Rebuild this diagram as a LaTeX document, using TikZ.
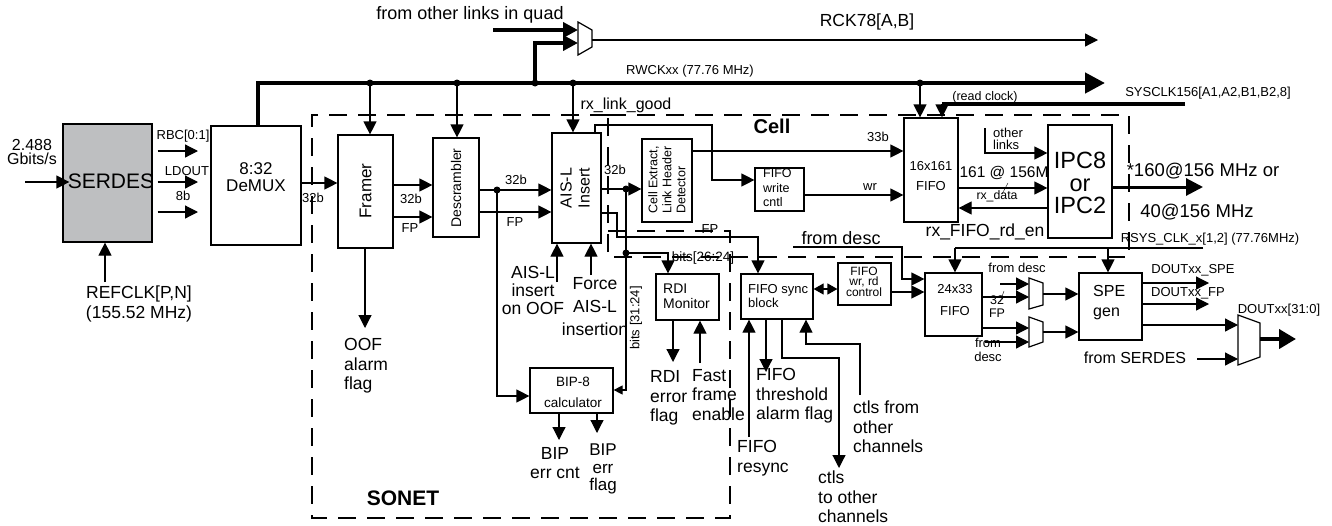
\documentclass[tikz,border=0pt]{standalone}
\usepackage{fontspec}
\setmainfont{Liberation Sans}
\usetikzlibrary{arrows.meta, positioning, calc}

\definecolor{serdesgray}{RGB}{190,191,193}

\tikzset{
  blk/.style={draw, line width=1.2pt, fill=white, inner sep=0pt},
  txt/.style={inner sep=0pt, align=center},
  arr/.style={-{Triangle[length=13pt,width=13pt]}, line width=1.2pt},
  sarr/.style={-{Triangle[length=9pt,width=9pt]}, line width=1.2pt},
  bus/.style={line width=4.5pt},
  region/.style={dash pattern=on 18pt off 11pt, line width=1.1pt},
  dot/.style={circle, fill, inner sep=0pt, minimum size=7pt},
  mux/.style={line width=1.2pt, fill=white},
  f12/.style={font=\fontsize{12}{12.5}\selectfont},
  f13/.style={font=\fontsize{13}{14}\selectfont},
  f17/.style={font=\fontsize{17.5}{19.5}\selectfont},
  f24/.style={font=\fontsize{23.5}{24}\selectfont},
}

\begin{document}
\begin{tikzpicture}[x=1pt, y=-1pt]
    \useasboundingbox (0,0) rectangle (1332,525);

    % Dashed regions
    \draw[region] (608,115) -- (312,115) -- (312,518) -- (730,518) -- (730,231) -- (608,231);
    \draw[region] (608,115) -- (1129,115) -- (1129,257) -- (608,257) -- cycle;
    \node[txt, font=\bfseries\fontsize{20}{20}\selectfont] (cell) at (772,126) {Cell};
    \node[txt, font=\bfseries\fontsize{21}{21}\selectfont] (sonet) at (403,498) {SONET};

    % Blocks
    \node[blk, fill=serdesgray, minimum width=89pt, minimum height=118pt] (serdes) at (107.5,183) {};
    \node[txt, font=\fontsize{21}{21}\selectfont] (serdesT) at (111,181) {SERDES};
    \node[blk, minimum width=90pt, minimum height=119pt] (demux) at (256,185.5) {};
    \node[txt, font=\fontsize{17}{17}\selectfont] (demuxT) at (256,177) {8:32\\DeMUX};
    \node[blk, minimum width=55pt, minimum height=113pt] (framer) at (365.5,191.5) {};
    \node[txt, rotate=90, font=\fontsize{17}{17}\selectfont] (framerT) at (365.5,191) {Framer};
    \node[blk, minimum width=46pt, minimum height=99pt] (descr) at (456,187.5) {};
    \node[txt, rotate=90, font=\fontsize{14}{14}\selectfont] (descrT) at (456,188) {Descrambler};
    \node[blk, minimum width=49pt, minimum height=110pt] (aisl) at (576.5,188) {};
    \node[txt, rotate=90, font=\fontsize{16}{18}\selectfont] (aislT) at (575,188) {AIS-L\\Insert};
    \node[blk, minimum width=50pt, minimum height=83pt] (cellx) at (667,180.5) {};
    \node[txt, rotate=90, align=left, font=\fontsize{12.5}{14}\selectfont] (cellxT) at (667,180) {Cell Extract,\\Link Header\\Detector};
    \node[blk, minimum width=49pt, minimum height=43pt] (fwc) at (779.5,189.5) {};
    \node[txt, anchor=west, align=left, font=\fontsize{12.5}{14.5}\selectfont] (fwcT) at (763,188) {FIFO\\write\\cntl};
    \node[blk, minimum width=54pt, minimum height=104pt] (fifoA) at (931,170) {};
    \node[txt, f13] (fifoAT) at (931,176) {16x161\\[6pt]FIFO};
    \node[blk, minimum width=64pt, minimum height=113pt] (ipc) at (1080,181.5) {};
    \node[txt, f24] (ipc8) at (1080,160.5) {IPC8};
    \node[txt, f24] (ipcor) at (1080,185.5) {or};
    \node[txt, f24] (ipc2) at (1080,205) {IPC2};
    \node[blk, minimum width=83pt, minimum height=45pt] (bip) at (571.5,390.5) {};
    \node[txt, font=\fontsize{13.5}{15}\selectfont] (bipT) at (573,392) {BIP-8\\[6pt]calculator};
    \node[blk, minimum width=63pt, minimum height=46pt] (rdi) at (687.5,297) {};
    \node[txt, anchor=west, align=left, font=\fontsize{14}{15}\selectfont] (rdiT) at (663,296) {RDI\\Monitor};
    \node[blk, minimum width=72pt, minimum height=45pt] (sync) at (777,296.5) {};
    \node[txt, anchor=west, align=left, font=\fontsize{13}{13.5}\selectfont] (syncT) at (748,296) {FIFO sync\\block};
    \node[blk, minimum width=53pt, minimum height=42pt] (wrrd) at (864.5,284) {};
    \node[txt, font=\fontsize{12}{10}\selectfont] (wrrdT) at (864,282) {FIFO\\wr, rd\\control};
    \node[blk, minimum width=57pt, minimum height=63pt] (fifoB) at (953.5,304.5) {};
    \node[txt, f13] (fifoBT) at (955,300) {24x33\\[8pt]FIFO};
    \node[blk, minimum width=63pt, minimum height=67pt] (spe) at (1110.5,306.5) {};
    \node[txt, anchor=west, align=left, font=\fontsize{16}{20}\selectfont] (speT) at (1093,303) {SPE\\gen};

    % SERDES inputs and outputs
    \node[txt, font=\fontsize{16}{13.5}\selectfont] (gbps) at (32,152) {2.488\\Gbits/s};
    \coordinate (gin) at (25,182);
    \draw[arr] (gin) -- ($(serdes.west |- gin)+(7,0)$);
    \node[txt, f17] (refclk) at (139,304) {REFCLK[P,N]\\(155.52 MHz)};
    \draw[arr] (105,282) -- (serdes.south -| 105,0);
    \foreach \y in {151,182,212}{
        \draw[arr] (serdes.east |- 0,\y) ++(5,0) -- (198,\y);
    }
    \node[txt, f13] (rbc) at (183,136) {RBC[0:1]};
    \node[txt, f13] (ldout) at (187,171) {LDOUT};
    \node[txt, f13] (w8) at (183,196) {8b};

    % Clock bus
    \draw[bus, -{Triangle[length=20pt,width=20pt]}] (demux.north -| 258,0) -- (258,83) -- (1105,83);
    \node[txt, font=\fontsize{13}{13}\selectfont] (rwck) at (690,71) {RWCKxx (77.76 MHz)};
    \foreach \x/\b in {370/framer, 457/descr, 573/aisl, 920/fifoA}{
        \node[dot] (tap\b) at (\x,83) {};
        \draw[arr] (tap\b.center) -- (\b.north -| tap\b);
    }

    % Quad clock mux
    \node[dot] (tapq) at (535,83) {};
    \draw[line width=4pt, -{Triangle[length=15pt,width=15pt]}] (tapq.center) -- (535,43) -- (578,43);
    \draw[line width=4pt, -{Triangle[length=15pt,width=15pt]}] (493,30) -- (578,30);
    \draw[mux] (578,22) -- (592,30) -- (592,47) -- (578,55) -- cycle;
    \draw[arr] (592,40) -- (1098,40);
    \node[txt, font=\fontsize{18}{18}\selectfont] (quad) at (470,15) {from other links in quad};
    \node[txt, f17] (rck) at (867,22) {RCK78[A,B]};

    % Framer and descrambler
    \draw[arr] (demux.east |- 0,183) -- (framer.west |- 0,183);
    \node[txt, f13] (w32a) at (313,198) {32b};
    \draw[arr] (framer.south -| 365,0) -- (365,328);
    \node[txt, f17, align=left, anchor=west] (oof) at (344,366) {OOF\\alarm\\flag};
    \draw[arr] (framer.east |- 0,185) -- (descr.west |- 0,185);
    \draw[arr] (framer.east |- 0,217) -- (descr.west |- 0,217);
    \node[txt, f13] (w32b) at (411,199) {32b};
    \node[txt, f13] (fpa) at (410,228) {FP};

    % AIS-L insert
    \draw[arr] (descr.east |- 0,190) -- (aisl.west |- 0,190);
    \draw[arr] (descr.east |- 0,212) -- (aisl.west |- 0,212);
    \node[dot] (tapd) at (497,190) {};
    \node[txt, f13] (w32c) at (516,180) {32b};
    \node[txt, f13] (fpb) at (515,222) {FP};
    \draw[arr] (557,282) -- (aisl.south -| 557,0);
    \draw[arr] (591,275) -- (aisl.south -| 591,0);
    \node[txt, font=\fontsize{17.5}{18}\selectfont] (aisoof) at (533,290) {AIS-L\\insert\\on OOF};
    \node[txt, font=\fontsize{17.5}{23}\selectfont] (force) at (595,307) {Force\\AIS-L\\insertion};
    \node[txt, font=\fontsize{16}{16}\selectfont] (rxlg) at (626,105) {rx\_link\_good};
    \draw[arr] (aisl.north -| 595,0) -- (595,125) -- (712,125) -- (712,180) -- (fwc.west |- 0,180);

    % BIP-8
    \draw[arr] (tapd.center) -- (497,396) -- (bip.west |- 0,396);
    \draw[arr] (bip.south -| 559,0) -- (559,440);
    \draw[arr] (bip.south -| 597,0) -- (597,433);
    \node[txt, f17] (bipcnt) at (555,463) {BIP\\err cnt};
    \node[txt, font=\fontsize{17}{17.5}\selectfont] (bipflag) at (603,469) {BIP\\err\\flag};

    % Cell extract and taps
    \draw[arr] (aisl.east |- 0,189) -- (cellx.west |- 0,189);
    \node[dot] (tapc) at (626,189) {};
    \node[txt, f13] (w32d) at (615,170) {32b};
    \node[dot] (tapr) at (626,253) {};
    \draw[sarr] (tapc.center) -- (626,390) -- (bip.east |- 0,390);
    \node[txt, f13, rotate=90] (bits3124) at (636,318) {bits [31:24]};
    \draw[arr] (tapr.center) -- (668,253) -- (rdi.north -| 668,0);
    \node[txt, font=\fontsize{13.5}{14}\selectfont] (bits2624) at (703,258) {bits[26:24]};
    \draw[arr] (aisl.east |- 0,213) -- (617,213) -- (617,237) -- (758,237) -- (sync.north -| 758,0);
    \node[txt, f13] (fpc) at (710,229) {FP};

    % RDI monitor
    \draw[arr] (rdi.south -| 673,0) -- (673,362);
    \draw[arr] (700,363) -- (rdi.south -| 700,0);
    \node[txt, f17, anchor=west, align=left] (rdierr) at (650,398) {RDI\\error\\flag};
    \node[txt, f17, anchor=west, align=left] (fast) at (692,395) {Fast\\frame\\enable};

    % 16x161 FIFO
    \draw[arr] (cellx.east |- 0,151) -- (fifoA.west |- 0,151);
    \node[txt, f13] (w33) at (878,137) {33b};
    \draw[arr] (fwc.east |- 0,195) -- (fifoA.west |- 0,195);
    \node[txt, f13] (wr) at (870,187) {wr};
    \coordinate (sysclk) at (1185,104);
    \draw[line width=3.5pt] (sysclk) -- (942,104);
    \draw[arr] (942,104) -- (fifoA.north -| 942,0);
    \node[txt, font=\fontsize{12.5}{13}\selectfont] (rdclk) at (985,97) {(read clock)};
    \node[txt, f13] (sysclkT) at (1208,93) {SYSCLK156[A1,A2,B1,B2,8]};

    % IPC8 or IPC2
    \draw[arr] (fifoA.east |- 0,188) -- (ipc.west |- 0,188);
    \draw (1002,194) -- (1008,183);
    \node[txt, font=\fontsize{15.5}{16}\selectfont] (w161) at (1004,173) {161 @ 156M};
    \node[txt, font=\fontsize{12.3}{13}\selectfont] (rxdata) at (997,196) {rx\_data};
    \draw[arr] (ipc.west |- 0,208) -- (fifoA.east |- 0,208);
    \node[txt, font=\fontsize{17.5}{18}\selectfont] (rdEn) at (985,232) {rx\_FIFO\_rd\_en};
    \draw[arr] (985,128) -- (985,153) -- (ipc.west |- 0,153);
    \node[txt, anchor=west, align=left, font=\fontsize{13}{12}\selectfont] (olinks) at (993,139) {other\\links};
    \draw[line width=3pt, -{Triangle[length=17pt,width=17pt]}] (ipc.east |- 0,187) -- (1203,187);
    \node[txt, font=\fontsize{18.5}{19}\selectfont] (rate1) at (1203,171) {*160@156 MHz or};
    \node[txt, font=\fontsize{18.5}{19}\selectfont] (rate2) at (1197,212) {40@156 MHz};

    % FIFO sync block
    \draw[{Triangle[length=10pt,width=11pt]}-{Triangle[length=10pt,width=11pt]}, line width=1.2pt] (sync.east |- 0,289) -- (wrrd.west |- 0,289);
    \draw[arr] (749,437) -- (sync.south -| 749,0);
    \node[txt, f17, anchor=west, align=left] (resync) at (737,458) {FIFO\\resync};
    \draw[arr] (sync.south -| 766,0) -- (766,372);
    \node[txt, f17, anchor=west, align=left] (thresh) at (756,396) {FIFO\\threshold\\alarm flag};
    \draw[arr] (sync.south -| 782,0) -- (782,358) -- (839,358) -- (839,468);
    \node[txt, f17, anchor=west, align=left] (ctlto) at (818,497) {ctls\\to other\\channels};
    \draw[arr] (860,395) -- (860,344) -- (806,344) -- (sync.south -| 806,0);
    \node[txt, f17, anchor=west, align=left] (ctlfrom) at (853,427) {ctls from\\other\\channels};

    % 24x33 FIFO
    \draw[arr] (wrrd.east |- 0,292) -- (fifoB.west |- 0,292);
    \draw[arr] (793,247) -- (902,247) -- (902,279) -- (fifoB.west |- 0,279);
    \node[txt, font=\fontsize{18}{18}\selectfont] (fdesc) at (841,238) {from desc};
    \coordinate (rsys) at (1203,248);
    \draw[line width=1.2pt] (rsys) -- (955,248);
    \draw[arr] (955,248) -- (fifoB.north -| 955,0);
    \draw[arr] (1108,248) -- (spe.north -| 1108,0);
    \node[txt, f13] (rsysT) at (1210,239) {RSYS\_CLK\_x[1,2] (77.76MHz)};

    % Output muxes
    \draw[arr] (1000,284) -- (1029,284);
    \draw[arr] (fifoB.east |- 0,297) -- (1029,297);
    \draw[arr] (fifoB.east |- 0,328) -- (1029,328);
    \draw[arr] (985,342) -- (1029,342);
    \draw (1000,302) -- (1004,291);
    \draw[mux] (1029,278) -- (1043,283) -- (1043,305) -- (1029,309) -- cycle;
    \draw[mux] (1029,317) -- (1043,322) -- (1043,342) -- (1029,347) -- cycle;
    \node[txt, f13] (fdesc2) at (1017,268) {from desc};
    \node[txt, font=\fontsize{12.5}{13}\selectfont] (w32e) at (997,307) {32\\FP};
    \node[txt, f13] (fdesc3) at (988,350) {from\\desc};
    \draw[arr] (1043,294) -- (spe.west |- 0,294);
    \draw[arr] (1043,332) -- (spe.west |- 0,332);

    % SPE gen outputs
    \draw[arr] (spe.east |- 0,283) -- (1209,283);
    \draw[arr] (spe.east |- 0,304) -- (1209,304);
    \draw[arr] (spe.east |- 0,325) -- (1238,325);
    \node[txt, f13] (dspe) at (1193,270) {DOUTxx\_SPE};
    \node[txt, f13] (dfp) at (1188,293) {DOUTxx\_FP};
    \draw[arr] (1197,359) -- (1238,359);
    \node[txt, font=\fontsize{16}{16}\selectfont] (fserdes) at (1135,358) {from SERDES};
    \draw[mux] (1238,315) -- (1260,323) -- (1260,357) -- (1238,365) -- cycle;
    \draw[line width=4pt, -{Triangle[length=17pt,width=19pt]}] (1260,339) -- (1296,339);
    \node[txt, f13] (dout) at (1279,310) {DOUTxx[31:0]};

\end{tikzpicture}
\end{document}
